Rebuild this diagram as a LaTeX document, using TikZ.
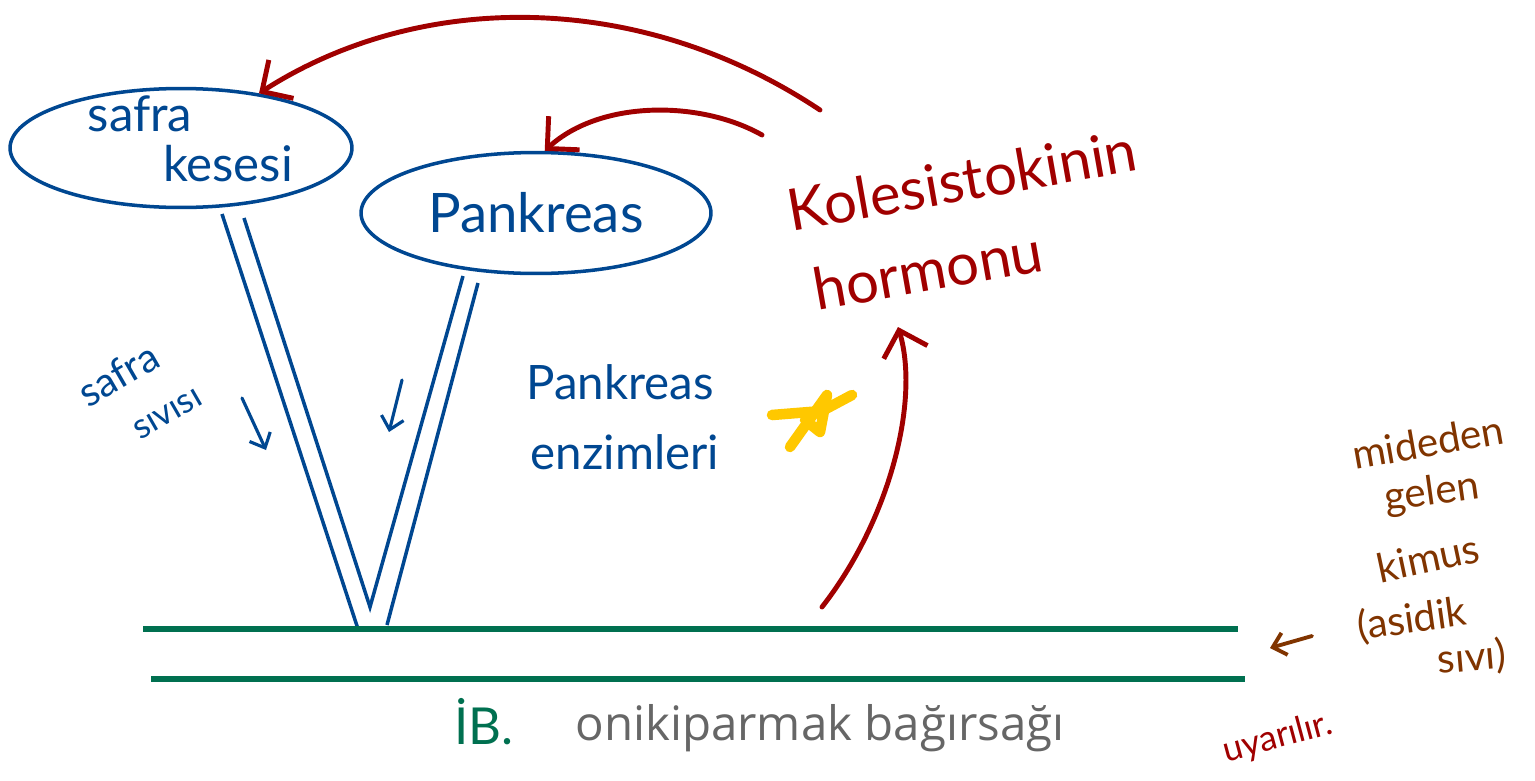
\documentclass[tikz,border=0pt]{standalone}
\usepackage{fontspec}
\setmainfont{Lato}
\newfontfamily\yazi{Open Sans}
\usepackage{tikz}
\usetikzlibrary{positioning,shapes.geometric,arrows.meta}

\definecolor{mavi}{RGB}{0,71,145}
\definecolor{kirmizi}{RGB}{160,0,0}
\definecolor{yesil}{RGB}{0,112,80}
\definecolor{kahve}{RGB}{128,52,0}
\definecolor{gri}{RGB}{102,102,102}
\definecolor{sari}{RGB}{255,200,0}

\tikzset{
  organ/.style={ellipse, draw=mavi, line width=2pt, inner sep=0pt},
  kanal/.style={draw=mavi, line width=2pt},
  maviyazi/.style={text=mavi, inner sep=0pt},
  maviok/.style={draw=mavi, line width=1.8pt, line cap=round, -{Straight Barb[length=7pt,width=13pt]}},
  kirmiziok/.style={draw=kirmizi, line width=2.8pt, line cap=round, -{Straight Barb[length=13pt,width=26pt]}},
  bagirsak/.style={draw=yesil, line width=3pt},
  kahveyazi/.style={text=kahve, inner sep=0pt, font=\fontsize{23}{26}\selectfont},
}

\begin{document}
\begin{tikzpicture}[x=0.02cm, y=-0.02cm]
  \useasboundingbox (0,0) rectangle (1535,781);

  % safra kesesi ve pankreas
  \node[organ, minimum width=6.84cm, minimum height=2.38cm] (safra) at (181,148) {};
  \node[maviyazi, font=\fontsize{28}{30}\selectfont] (safraA) at (140,114) {safra};
  \node[maviyazi, font=\fontsize{28}{30}\selectfont] (safraB) at (228,164) {kesesi};
  \node[organ, minimum width=7cm, minimum height=2.42cm, text=mavi,
        font=\fontsize{31}{33}\selectfont] (pank) at (536,213) {Pankreas};

  % kanallar
  \coordinate (sdA) at (222,214);
  \coordinate (sdB) at (244,218);
  \coordinate (vAlt) at (370,607);
  \coordinate (pdA) at (463,276);
  \coordinate (pdB) at (478,283);
  \coordinate (sdUc) at (358,629);
  \coordinate (pdUc) at (387,625);
  \draw[kanal] (sdA) -- (sdUc);
  \draw[kanal] (sdB) -- (vAlt) -- (pdA);
  \draw[kanal] (pdB) -- (pdUc);

  % onikiparmak
  \coordinate (b1) at (143,629);
  \coordinate (b2) at (1238,629);
  \coordinate (b3) at (151,679);
  \coordinate (b4) at (1245,679);
  \draw[bagirsak] (b1) -- (b2);
  \draw[bagirsak] (b3) -- (b4);
  \node[text=yesil, font=\fontsize{29}{30}\selectfont] (ib) at (484,722) {İB.};
  \node[text=gri, font=\yazi\fontsize{27}{30}\selectfont] (oniki) at (820,728) {onikiparmak bağırsağı};

  % akis yonu
  \node[maviyazi, rotate=30, font=\fontsize{23}{26}\selectfont] (ssA) at (118,374) {safra};
  \node[maviyazi, rotate=30, font=\fontsize{20}{24}\selectfont] (ssB) at (168,414) {sıvısı};
  \coordinate (ok1a) at (242,398);
  \coordinate (ok1b) at (266,450);
  \coordinate (ok2a) at (402,380);
  \coordinate (ok2b) at (389,432);
  \draw[maviok] (ok1a) -- (ok1b);
  \draw[maviok] (ok2a) -- (ok2b);
  \node[maviyazi, font=\fontsize{27}{28}\selectfont] (peA) at (620,382) {Pankreas};
  \node[maviyazi, font=\fontsize{27}{28}\selectfont] (peB) at (625,452) {enzimleri};

  % yildiz
  \draw[sari, line width=6pt, line cap=round, line join=round] (772,415) -- (822,411) -- (852,395);
  \draw[sari, line width=6pt, line cap=round, line join=round] (790,447) -- (827,395) -- (820,432) -- (805,420);

  % hormon
  \node[text=kirmizi, rotate=10, font=\fontsize{33}{34}\selectfont] (kole) at (962,180) {Kolesistokinin};
  \node[text=kirmizi, rotate=10, font=\fontsize{33}{34}\selectfont] (hormon) at (928,270) {hormonu};
  \coordinate (k1) at (820,110);
  \coordinate (k2) at (762,135);
  \coordinate (k3) at (822,607);
  \coordinate (k3uc) at (898,327);
  \draw[kirmiziok] (k1) .. controls (640,-10) and (420,-10) .. (safra.35);
  \draw[kirmiziok] (k2) .. controls (700,100) and (600,100) .. (pank.82);
  \draw[kirmiziok] (k3) .. controls (890,520) and (920,400) .. (k3uc);
  \node[text=kirmizi, rotate=15, font=\fontsize{20}{22}\selectfont] (uyar) at (1278,738) {uyarılır.};

  % kimus
  \node[kahveyazi, rotate=10] (kmA) at (1428,442) {mideden};
  \node[kahveyazi, rotate=8] (kmB) at (1432,494) {gelen};
  \node[kahveyazi, rotate=12] (kmC) at (1428,558) {kimus};
  \node[kahveyazi, rotate=8] (kmD) at (1412,620) {(asidik};
  \node[kahveyazi, rotate=5] (kmE) at (1472,658) {sıvı)};
  \coordinate (kmOk1) at (1312,636);
  \coordinate (kmOk2) at (1270,648);
  \draw[draw=kahve, line width=2.2pt, line cap=round, -{Straight Barb[length=7pt,width=13pt]}] (kmOk1) -- (kmOk2);
\end{tikzpicture}
\end{document}
